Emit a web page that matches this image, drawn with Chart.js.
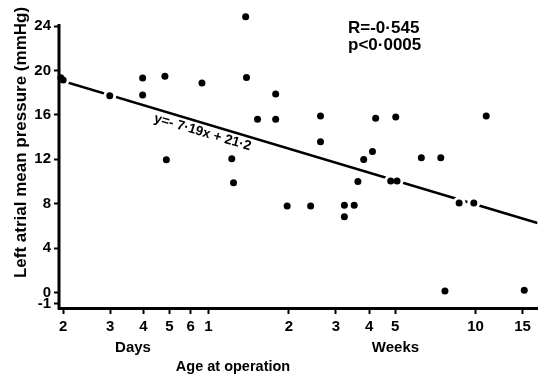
<!DOCTYPE html>
<html><head><meta charset="utf-8">
<script src="https://cdn.jsdelivr.net/npm/chart.js@4"></script>
<style>html,body{margin:0;padding:0;background:#fff}</style>
</head><body>
<canvas id="c" width="544" height="378"></canvas>
<script>
// Age at operation (days) and left atrial mean pressure (mmHg)
const ageDays  = [1.96, 2.0, 2.99, 3.97, 3.97, 4.81, 4.87, 6.62, 9.65, 9.72, 10.69, 8.56, 8.69,
                  12.5, 12.5, 18.4, 18.4, 29.6, 35.2, 76.8, 28.8, 26.7, 43.9, 51.9, 25.4, 33.7, 35.6,
                  13.8, 16.9, 22.6, 24.6, 22.6, 60.8, 69.0, 53.8, 106.6];
const pressure = [19.35, 19.14, 17.72, 19.34, 17.80, 19.49, 11.96, 18.88, 24.86, 19.37, 15.62, 12.05, 9.90,
                  17.89, 15.62, 15.91, 13.58, 15.71, 15.82, 15.91, 12.71, 11.99, 12.14, 12.14, 10.01, 10.04, 10.04,
                  7.80, 7.80, 7.86, 7.86, 6.82, 8.06, 8.06, 0.13, 0.19];
const xTickValues = [2, 3, 4, 5, 6, 7, 14, 21, 28, 35, 70, 105];
const xTickLabels = ['2', '3', '4', '5', '6', '1', '2', '3', '4', '5', '10', '15'];
const yTickValues = [24, 20, 16, 12, 8, 4, 0, -1];
const yTickLabels = ['24', '20', '16', '12', '8', '4', '0', '-1'];
const fitSlope = -7.19, fitIntercept = 21.2;
const fitRange = [1.93, 119.5];
const yAxisTop = 24.2;

const FONT = "'Liberation Sans', Arial, sans-serif";
Chart.defaults.font.family = FONT;
Chart.defaults.color = '#000';

const pts = ageDays.map((d, i) => ({x: d, y: pressure[i]}));
const fitPts = fitRange.map(d => ({x: d, y: fitIntercept + fitSlope * Math.log10(d)}));

const axisLinePlugin = {
  id: 'yAxisLine',
  beforeDatasetsDraw(chart) {
    const ctx = chart.ctx, a = chart.chartArea, ys = chart.scales.y;
    ctx.save();
    ctx.strokeStyle = '#000';
    ctx.lineWidth = 3;
    ctx.beginPath();
    ctx.moveTo(a.left, ys.getPixelForValue(yAxisTop));
    ctx.lineTo(a.left, a.bottom + 1.5);
    ctx.stroke();
    ctx.restore();
  }
};

const textPlugin = {
  id: 'texts',
  afterDraw(chart) {
    const ctx = chart.ctx;
    const xs = chart.scales.x, ys = chart.scales.y;
    ctx.save();
    ctx.fillStyle = '#000';
    ctx.font = 'bold 17px ' + FONT;
    ctx.textAlign = 'left';
    ctx.textBaseline = 'alphabetic';
    ctx.fillText('R=-0·545', 348, 33);
    ctx.fillText('p<0·0005', 348, 50);
    ctx.font = 'bold 15px ' + FONT;
    ctx.textAlign = 'center';
    ctx.fillText('Days', 133, 352);
    ctx.fillText('Weeks', 395.5, 352);
    ctx.font = 'bold 14.5px ' + FONT;
    ctx.fillText('Age at operation', 233, 371);
    ctx.save();
    ctx.translate(21, 142.5);
    ctx.rotate(-Math.PI / 2);
    ctx.font = 'bold 17px ' + FONT;
    ctx.textBaseline = 'middle';
    ctx.fillText('Left atrial mean pressure (mmHg)', 0, 0);
    ctx.restore();
    const x1 = xs.getPixelForValue(fitPts[0].x), y1 = ys.getPixelForValue(fitPts[0].y);
    const x2 = xs.getPixelForValue(fitPts[1].x), y2 = ys.getPixelForValue(fitPts[1].y);
    const ang = Math.atan2(y2 - y1, x2 - x1);
    ctx.save();
    ctx.translate(202.5, 132.5);
    ctx.rotate(ang);
    ctx.font = 'bold 13.5px ' + FONT;
    ctx.textBaseline = 'middle';
    ctx.textAlign = 'center';
    ctx.fillText('y=- 7·19x + 21·2', 0, 0);
    ctx.restore();
    ctx.restore();
  }
};

new Chart(document.getElementById('c'), {
  type: 'scatter',
  data: {
    datasets: [
      {type: 'line', data: fitPts, borderColor: '#000', borderWidth: 2.5, pointRadius: 0, fill: false, order: 3},
      {data: pts, pointRadius: 6.5, backgroundColor: '#fff', borderWidth: 0, order: 2,
       clip: {left: -2, top: 0, right: 0, bottom: -2}},
      {data: pts, pointRadius: 3.5, backgroundColor: '#000', borderWidth: 0, order: 1, clip: false}
    ]
  },
  options: {
    responsive: false,
    animation: false,
    events: [],
    layout: {padding: {left: 0, right: 2, top: 2, bottom: 0}},
    plugins: {legend: {display: false}, tooltip: {enabled: false}},
    scales: {
      x: {
        type: 'logarithmic', min: fitRange[0], max: fitRange[1],
        afterFit(s) { s.height = 70; },
        afterBuildTicks(s) { s.ticks = xTickValues.map(v => ({value: v})); },
        ticks: {autoSkip: false, maxRotation: 0, minRotation: 0, padding: 4, color: '#000',
                font: {size: 15, weight: 'bold'},
                callback: (v) => { const i = xTickValues.indexOf(v); return i >= 0 ? xTickLabels[i] : ''; }},
        grid: {drawOnChartArea: false, tickLength: 6, tickWidth: 2, tickColor: '#000', color: '#000'},
        border: {display: true, width: 3, color: '#000'}
      },
      y: {
        type: 'linear', min: -1.4, max: 25.28,
        afterFit(s) { s.width = 59; },
        afterBuildTicks(s) { s.ticks = yTickValues.map(v => ({value: v})); },
        ticks: {autoSkip: false, padding: 3, color: '#000', font: {size: 15, weight: 'bold'},
                callback: (v) => { const i = yTickValues.indexOf(v); return i >= 0 ? yTickLabels[i] : ''; }},
        grid: {drawOnChartArea: false, tickLength: 5, tickWidth: 2, tickColor: '#000', color: '#000'},
        border: {display: false}
      }
    }
  },
  plugins: [axisLinePlugin, textPlugin]
});
</script>
</body></html>
